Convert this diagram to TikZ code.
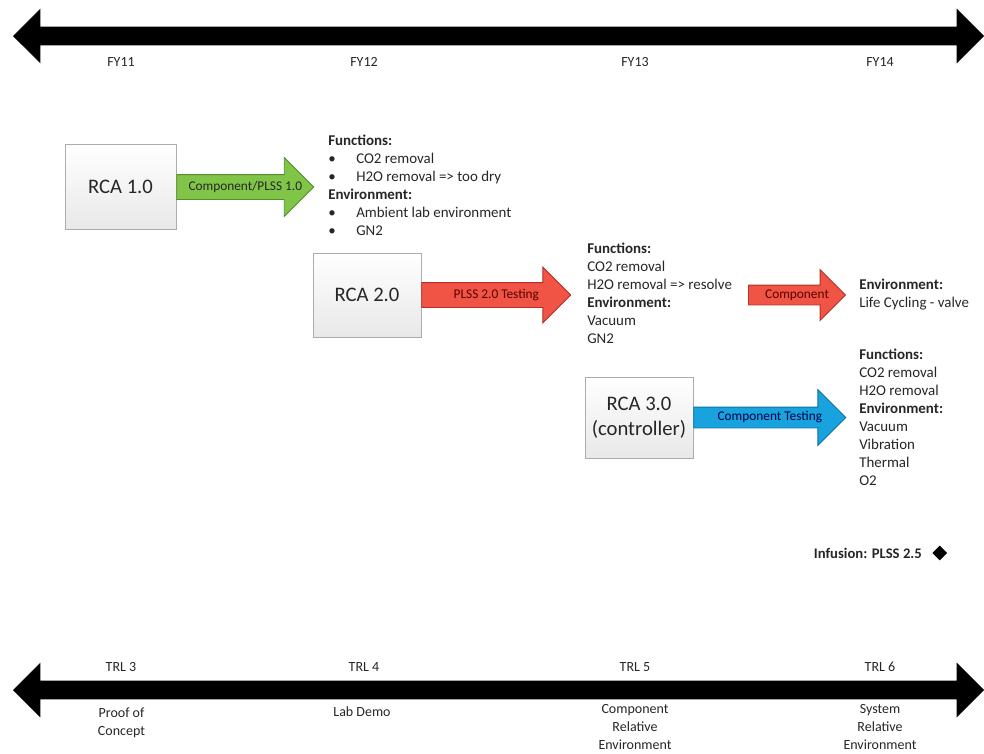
\documentclass[tikz,border=0pt]{standalone}
\usepackage{fontspec}
\setmainfont{Carlito}
\usepackage{xcolor}
\usetikzlibrary{arrows.meta,positioning,shapes.arrows,shapes.geometric,calc}

\definecolor{arrgreen}{RGB}{128,196,72}
\definecolor{arrgreenline}{RGB}{86,140,46}
\definecolor{arrred}{RGB}{240,84,68}
\definecolor{arrredline}{RGB}{180,48,36}
\definecolor{arrblue}{RGB}{24,162,222}
\definecolor{arrblueline}{RGB}{16,112,160}

\newcommand{\bul}{\makebox[21pt][l]{\textbullet}}

\begin{document}
\begin{tikzpicture}[
    x=0.75pt, y=-0.75pt,
    rca/.style={draw=gray!65, top color=white, bottom color=gray!18, minimum width=81pt, minimum height=62.5pt, align=center, text=black!85, font=\fontsize{15.5}{19}\selectfont},
    blockarrow/.style={single arrow, single arrow head indent=0pt, inner sep=0pt, text depth=0pt, line width=0.7pt},
    arrlabel/.style={font=\fontsize{10}{11}\selectfont, inner sep=0pt},
    timeline/.style={double arrow, fill=black, double arrow head extend=13.5pt, text height=13.5pt, text depth=0pt, inner sep=0pt, minimum height=728.25pt},
    axislabel/.style={font=\fontsize{10.5}{13.5}\selectfont, text=black!85, align=center},
    info/.style={font=\fontsize{11.2}{13.5}\selectfont, text=black!85, align=left, inner sep=0pt, anchor=north west}
  ]
    \useasboundingbox (0,0) rectangle (984,753);

    % time line and TRL line
    \node[timeline] (fyline) at (498.5,36) {};
    \node[timeline] (trlline) at (498.5,690) {};
    \foreach \x/\fy/\trl [count=\i] in {121/FY11/TRL 3, 364/FY12/TRL 4, 635/FY13/TRL 5, 880/FY14/TRL 6} {
      \node[axislabel] (fy\i) at (\x,62) {\fy};
      \node[axislabel] (trl\i) at (\x,667) {\trl};
    }
    \node[axislabel, anchor=north, inner sep=0pt] (trldesc1) at (121.5,708) {Proof of\\Concept};
    \node[axislabel, anchor=north, inner sep=0pt] (trldesc2) at (362,707) {Lab Demo};
    \node[axislabel, anchor=north, inner sep=0pt] (trldesc3) at (635,704) {Component\\Relative\\Environment};
    \node[axislabel, anchor=north, inner sep=0pt] (trldesc4) at (880,704) {System\\Relative\\Environment};

    % assemblies
    \node[rca, minimum width=83.25pt, minimum height=63.75pt] (rca1) at (120.5,187) {RCA 1.0};
    \node[rca, minimum height=63pt] (rca2) at (367,295) {RCA 2.0};
    \node[rca, minimum height=60.75pt] (rca3) at (639,417.5) {RCA 3.0\\(controller)};

    % test steps
    \node[blockarrow, fill=arrgreen, draw=arrgreenline, text height=18pt, single arrow head extend=12.75pt, minimum height=102.75pt, anchor=tail] (arr1) at (rca1.east) {};
    \node[arrlabel, text=black!85] (lab1) at ($(arr1.tail)!0.5!(arr1.tip)$) {Component/PLSS 1.0};

    \node[blockarrow, fill=arrred, draw=arrredline, text height=18pt, single arrow head extend=11.6pt, minimum height=111.75pt, anchor=tail] (arr2) at (rca2.east) {};
    \node[arrlabel, text=red!35!black] (lab2) at ($(arr2.tail)!0.5!(arr2.tip)$) {PLSS 2.0 Testing};

    \coordinate (comptail) at (748,295);
    \node[blockarrow, fill=arrred, draw=arrredline, text height=14.25pt, single arrow head extend=11.6pt, minimum height=72.75pt, anchor=tail] (arr3) at (comptail) {};
    \node[arrlabel, text=red!35!black] (lab3) at ($(arr3.tail)!0.5!(arr3.tip)$) {Component};

    \node[blockarrow, fill=arrblue, draw=arrblueline, text height=15pt, single arrow head extend=13.1pt, minimum height=114pt, anchor=tail] (arr4) at (rca3.east) {};
    \node[arrlabel, text=blue!30!black] (lab4) at ($(arr4.tail)!0.5!(arr4.tip)$) {Component Testing};

    % requirements
    \node[info] (req1) at (328,134.5) {\textbf{Functions:}\\
      \bul CO2 removal\\
      \bul H2O removal => too dry\\
      \textbf{Environment:}\\
      \bul Ambient lab environment\\
      \bul GN2};
    \node[info] (req2) at (587,242.5) {\textbf{Functions:}\\
      CO2 removal\\
      H2O removal => resolve\\
      \textbf{Environment:}\\
      Vacuum\\
      GN2};
    \node[info] (req3) at (859,279) {\textbf{Environment:}\\
      Life Cycling - valve};
    \node[info] (req4) at (859,348.5) {\textbf{Functions:}\\
      CO2 removal\\
      H2O removal\\
      \textbf{Environment:}\\
      Vacuum\\
      Vibration\\
      Thermal\\
      O2};

    % infusion
    \node[anchor=east, inner sep=0pt, text=black!85, font=\fontsize{11}{13}\selectfont\bfseries] (infusion) at (922,553) {Infusion: PLSS 2.5};
    \node[diamond, fill=black, minimum size=11.25pt, inner sep=0pt, right=7.5pt of infusion] (infmark) {};
  \end{tikzpicture}
\end{document}
